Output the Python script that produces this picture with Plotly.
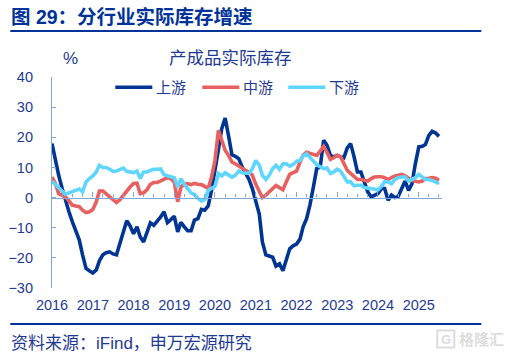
import pandas as pd
import plotly.graph_objects as go

W, H = 511, 354
months = pd.date_range("2016-01-01", "2025-07-01", freq="MS").strftime("%Y-%m-%d").tolist()

upstream = [17.9,12.3,7.4,3,-1,-4.7,-8,-11,-14,-19,-23.5,-24.3,-25,-24,-21,-19,-18.3,-18,-18.7,-19,
 -15.2,-11,-7.7,-9.4,-12,-9.7,-13,-14.7,-11.4,-8.4,-9.2,-8,-6.4,-4.7,-8.3,-7.3,-6.2,-11.4,-8.2,-9.7,
 -11,-11,-7.5,-7,-3.9,-4.2,-2.8,2.4,10.1,16,22.8,26.4,20.6,14.2,13.7,12.9,10.1,8,6,3,
 -1,-5.5,-14.7,-19,-19.4,-19.8,-22.7,-22,-24.3,-20.7,-17,-16,-15.4,-13.8,-9.7,-7,-2.5,3.5,9.6,10.1,
 19,17.3,14,13.5,14,13.5,13.2,16.5,17.9,13.5,8.5,8.5,5.2,1.9,0.2,0.8,1.3,3,3,-0.9,
 0.8,0,0.4,3,5.5,2.4,4.6,11.2,16.8,17,17.6,20.6,22,21.4,20.3]
midstream = [6.8,4.6,1.3,0.8,0.2,-1.1,-2.5,-2.8,-3,-4.2,-5,-4.7,-4,-1.4,2.2,2.2,1,0.2,-0.7,-1.6,
 -0.7,0.8,2,3.5,4.7,4.8,1.3,1.6,2.6,4.4,5,5,5.5,6,6.6,6.3,5.2,-1.4,3.5,4.4,
 4.6,4.3,4.7,4.4,4.3,3.7,3,6.8,12.3,22.3,19,15.7,14,11.8,11.2,10.4,9.6,9,8.5,7.4,
 4.4,1.9,0,0.8,1.9,3,4,3.3,2.6,5.2,7.7,8.3,8.8,11.8,14,15,14.7,14.5,14,15.4,
 17,15,12.7,13.2,14,13.5,11.2,9,8,6.8,6,6,5.7,5.5,6.3,6.8,6.9,6.9,6.6,6,
 6.6,7.2,7.4,7.7,7.2,6.3,5.7,5.4,5.2,5.5,6.3,6.4,6.6,6.4,5.7]
downstream = [5.4,4.4,3.5,2.2,1.1,1.6,2,2.6,2.8,1.9,5.2,6.3,7.2,8.5,10.7,10,10,9.4,8.7,8.8,
 9.3,9.8,8.7,8.4,8.3,8.8,6.3,8.5,8.5,9,9.4,9.4,9.5,7.6,7.2,7,6.6,3.5,6.3,4.4,
 3,1.5,1,-0.3,-1.1,-0.7,2.4,3.2,3.7,8,7.2,8.2,7.4,6.8,7.4,8.8,8.2,8,8,9.6,
 12.3,10.7,7.4,6,7.4,9.6,10.7,9.4,11.2,11.2,10.4,11,12,12.3,13.8,14.5,13.5,12.1,10.9,10.1,
 9.6,9.8,8,8.5,9.4,8.7,6.8,5.2,5.2,3.9,4.1,4.1,3.3,3.1,2.9,2.8,2.6,3.7,5.2,5.2,
 4.6,6,6.6,6.8,6.8,5.5,6,6.6,7.7,6.8,6,6,5.7,5.2,4.6]

series_names = ["上游", "中游", "下游"]
series_colors = ["#003594", "#E8605F", "#5FD6FF"]
y_ticks = [-30, -20, -10, 0, 10, 20, 30, 40]
title_text = "图 29\uff1a分行业实际库存增速"
subtitle_text = "产成品实际库存"
unit_text = "%"
source_text = "资料来源\uff1aiFind\uff0c申万宏源研究"
watermark_text = "格隆汇"
legend_starts = [115, 202, 288]

NAVY = "#003399"
TEXT = "#1F3A93"
AXIS = "#7FA8D8"
FONT = "Liberation Sans, Noto Sans CJK SC, sans-serif"

L, R, T, B = 51.7, 441.7, 76.7, 288.3
fig = go.Figure()
for name, vals, col in zip(series_names, [upstream, midstream, downstream], series_colors):
    fig.add_trace(go.Scatter(x=months, y=vals, name=name, mode="lines", showlegend=False,
                             line=dict(color=col, width=3.6, shape="linear")))

def fx(x): return (x - L) / (R - L)
def fy(y): return (B - y) / (B - T)

zero_frac = 30 / 70
shapes = [
    dict(type="line", xref="paper", yref="paper", x0=fx(10), x1=fx(481),
         y0=fy(30.5), y1=fy(30.5), line=dict(color=NAVY, width=2)),
    dict(type="line", xref="paper", yref="paper", x0=fx(10), x1=fx(481),
         y0=fy(324.5), y1=fy(324.5), line=dict(color=NAVY, width=2)),
    dict(type="rect", xref="paper", yref="paper", x0=fx(437), x1=fx(454),
         y0=fy(348), y1=fy(331), line=dict(color="#DDDDDD", width=2)),
]
for start, col in zip(legend_starts, series_colors):
    shapes.append(dict(type="line", xref="paper", yref="paper", x0=fx(start), x1=fx(start + 37),
                       y0=fy(87), y1=fy(87), line=dict(color=col, width=3.6)))

fig.update_layout(
    width=W, height=H, autosize=False,
    margin=dict(l=L, r=W - R, t=T, b=H - B, pad=0, autoexpand=False),
    paper_bgcolor="white", plot_bgcolor="white",
    font=dict(family=FONT, size=14, color=TEXT),
    showlegend=False,
    xaxis=dict(type="date", range=["2016-01-01", "2025-07-28"], anchor="free",
               position=zero_frac, showgrid=False, zeroline=False, automargin=False,
               showline=True, linecolor=AXIS, linewidth=1.2,
               tick0="2016-01-01", dtick="M12", tickformat="%Y", ticks="inside",
               ticklen=5, tickcolor=AXIS, tickwidth=1.2, ticklabelstandoff=94,
               tickfont=dict(size=14.5, color=TEXT),
               minor=dict(dtick="M3", tick0="2016-01-01", ticks="inside", ticklen=3,
                          tickcolor=AXIS, tickwidth=1, showgrid=False)),
    yaxis=dict(range=[-30, 40], tickvals=y_ticks, showgrid=False, zeroline=False, automargin=False,
               showline=True, linecolor=AXIS, linewidth=1.2, ticks="inside", ticklen=4,
               tickcolor=AXIS, tickwidth=1.2, tickfont=dict(size=14.5, color=TEXT), ticklabelstandoff=15),
    shapes=shapes,
)

def note(text, x, y, size, color=TEXT, bold=False, anchor="left"):
    fig.add_annotation(text=f"<b>{text}</b>" if bold else text, xref="paper", yref="paper",
                       x=fx(x), y=fy(y), showarrow=False, xanchor=anchor, yanchor="middle",
                       xshift=-1, font=dict(size=size, color=color, family=FONT))

note(title_text, 10, 17, 19.5, NAVY, True)
note(unit_text, 62, 58, 17)
note(subtitle_text, 168, 58, 17.5)
note(source_text, 10, 344, 17)
for start, name in zip(legend_starts, series_names):
    note(name, start + 40, 87, 15)
note("G", 440, 340, 13, "#DDDDDD", True)
note(watermark_text, 458, 340, 15, "#DDDDDD", True)

fig.write_html("out.html", config=dict(displayModeBar=False),
               post_script="document.body.style.margin='0';document.body.style.overflow='hidden';")
